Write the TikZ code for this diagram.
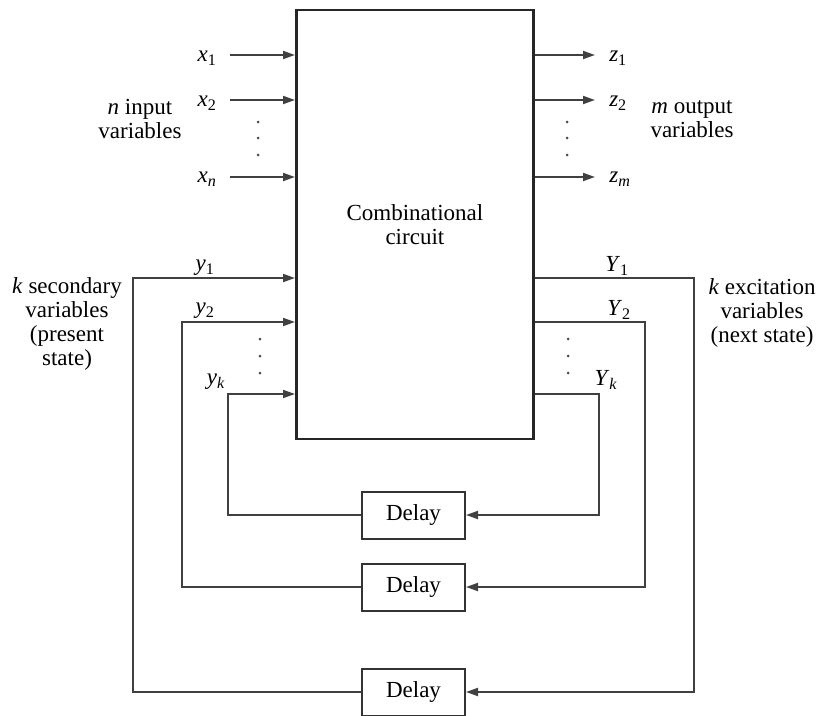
\documentclass[tikz,border=0pt]{standalone}
\usepackage{fontspec}
\setmainfont{Liberation Serif}
\usetikzlibrary{arrows.meta}
\newcommand{\vv}[2]{\textit{#1}\textsubscript{#2}}
\tikzset{
  wire/.style={draw=black!75, line width=1.8pt},
  arr/.style={wire, -{Triangle[length=12pt,width=8pt]}},
  lbl/.style={font=\fontsize{23}{24}\selectfont, inner sep=0pt, align=center},
  delaybox/.style={draw=black!80, line width=2pt, minimum width=103pt, minimum height=47pt, font=\fontsize{23}{24}\selectfont},
  dotc/.style={fill=black!70}
}
\begin{document}
\begin{tikzpicture}[x=1pt,y=-1pt]
\useasboundingbox (0,0) rectangle (821,715);
% main block
\node[draw=black!85, line width=2.8pt, minimum width=237pt, minimum height=429pt, anchor=north west,
      font=\fontsize{23}{24}\selectfont, align=center] (cc) at (295,8.5) {Combinational\\circuit};
% delays
\node[delaybox] (d1) at (413.5,515) {Delay};
\node[delaybox] (d2) at (413.5,587) {Delay};
\node[delaybox] (d3) at (413.5,692) {Delay};
% input labels
\node[lbl] (lx1) at (207,58) {\vv{x}{1}};
\node[lbl] (lx2) at (207,103) {\vv{x}{2}};
\node[lbl] (lxn) at (207,179) {\vv{x}{\textit{n}}};
\coordinate (sx1) at (230,55);
\coordinate (sx2) at (230,100);
\coordinate (sxn) at (230,177);
\draw[arr] (sx1) -- (sx1 -| cc.west);
\draw[arr] (sx2) -- (sx2 -| cc.west);
\draw[arr] (sxn) -- (sxn -| cc.west);
% output
\coordinate (ez1) at (595,55);
\coordinate (ez2) at (595,100);
\coordinate (ezm) at (595,177);
\draw[arr] (ez1 -| cc.east) -- (ez1);
\draw[arr] (ez2 -| cc.east) -- (ez2);
\draw[arr] (ezm -| cc.east) -- (ezm);
\node[lbl] (lz1) at (618,58) {\vv{z}{1}};
\node[lbl] (lz2) at (618,103) {\vv{z}{2}};
\node[lbl] (lzm) at (620,179) {\vv{z}{\textit{m}}};
% group labels
\node[lbl] (nin) at (140,119) {\textit{n} input\\variables};
\node[lbl] (mout) at (692,119) {\textit{m} output\\variables};
\node[lbl] (ksec) at (67,324) {\textit{k} secondary\\variables\\(present\\state)};
\node[lbl] (kexc) at (762,313) {\textit{k} excitation\\variables\\(next state)};
% feedback corners
\coordinate (a1) at (133,278);
\coordinate (a2) at (182,322);
\coordinate (ak) at (228,394);
\coordinate (b1) at (694,278);
\coordinate (b2) at (645,322);
\coordinate (bk) at (599,394);
% present state (left) loops
\draw[arr] (d3.west) -| (a1) -- (a1 -| cc.west);
\draw[arr] (d2.west) -| (a2) -- (a2 -| cc.west);
\draw[arr] (d1.west) -| (ak) -- (ak -| cc.west);
% next state (right) loops
\draw[arr] (b1 -| cc.east) -- (b1) |- (d3.east);
\draw[arr] (b2 -| cc.east) -- (b2) |- (d2.east);
\draw[arr] (bk -| cc.east) -- (bk) |- (d1.east);
% feedback labels
\node[lbl] (ly1) at (205,268) {\vv{y}{1}};
\node[lbl] (ly2) at (205,311) {\vv{y}{2}};
\node[lbl] (lyk) at (216,382) {\vv{y}{\textit{k}}};
\node[lbl] (lY1) at (617,266) {\vv{Y}{1}};
\node[lbl] (lY2) at (619,310) {\vv{Y}{2}};
\node[lbl] (lYk) at (606,380) {\vv{Y}{\textit{k}}};
% dots
\foreach \yy in {122,138,155} {
  \fill[dotc] (258,\yy) circle (1.5pt);
  \fill[dotc] (567,\yy) circle (1.5pt);
}
\foreach \yy in {339,356,373} {
  \fill[dotc] (260,\yy) circle (1.5pt);
  \fill[dotc] (568,\yy) circle (1.5pt);
}
\end{tikzpicture}
\end{document}
